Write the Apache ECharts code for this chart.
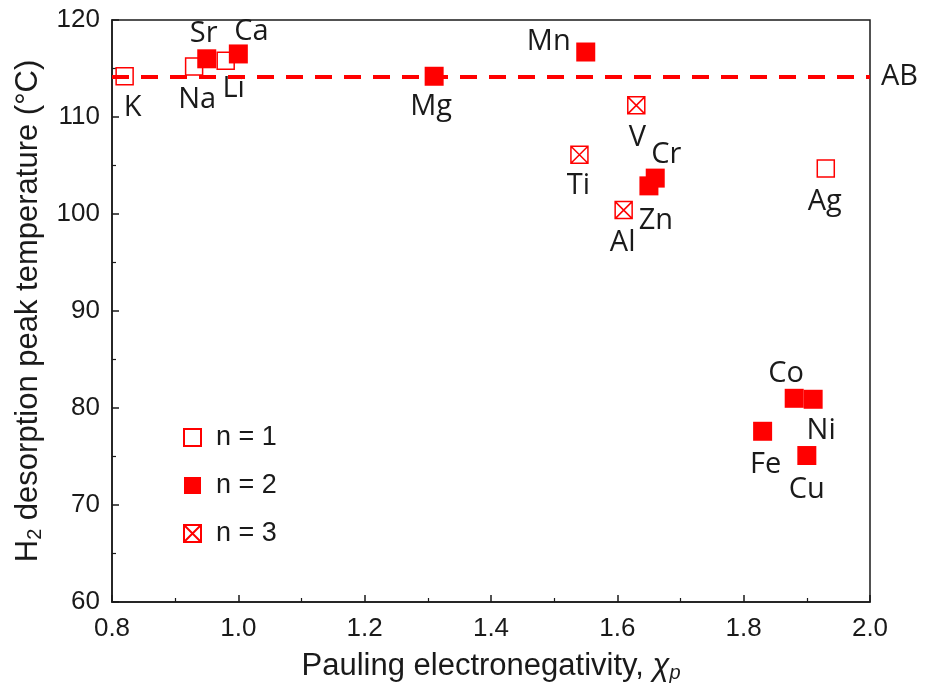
<!DOCTYPE html>
<html><head><meta charset="utf-8">
<script src="https://cdn.jsdelivr.net/npm/echarts@6/dist/echarts.min.js"></script>
<style>html,body{margin:0;padding:0;background:#fff}#c{width:928px;height:684px}</style>
</head><body><div id="c"></div>
<script>
// element, electronegativity, peak temperature
const n1Names = ['K', 'Na', 'Li', 'Ag'];
const n1X = [0.82, 0.93, 0.98, 1.93];
const n1Y = [114.2, 115.2, 115.8, 104.7];

const n2Names = ['Sr', 'Ca', 'Mg', 'Mn', 'Cr', 'Zn', 'Co', 'Ni', 'Fe', 'Cu'];
const n2X = [0.95, 1.00, 1.31, 1.55, 1.66, 1.65, 1.88, 1.91, 1.83, 1.90];
const n2Y = [116.0, 116.5, 114.2, 116.7, 103.7, 102.9, 81.0, 80.9, 77.6, 75.1];

const n3Names = ['V', 'Ti', 'Al'];
const n3X = [1.63, 1.54, 1.61];
const n3Y = [111.2, 106.1, 100.4];

const abValue = 114.2;
const xTicks = [0.8, 1.0, 1.2, 1.4, 1.6, 1.8, 2.0];
const yTicks = [60, 70, 80, 90, 100, 110, 120];

// label placement (style only)
const labelOffset = {
  K: [8, 31], Na: [3, 33], Sr: [-3, -25], Li: [8, 28], Ca: [13, -22], Mg: [-3, 30],
  Mn: [-37, -10], V: [1, 32], Ti: [-1, 31], Cr: [11, -23], Zn: [7, 35], Al: [-1, 33],
  Ag: [-1, 33], Co: [-8, -25], Ni: [8, 31], Fe: [3, 33], Cu: [0, 34]
};

const RED = '#ff0000';
const INK = '#1a1a1a';
const labelFont = {fontFamily: 'Open Sans', fontSize: 29, color: INK};

function build(names, xs, ys) {
  return names.map((n, i) => ({
    name: n, value: [xs[i], ys[i]],
    label: {show: true, formatter: n, position: 'inside', offset: labelOffset[n],
      align: 'center', verticalAlign: 'middle', ...labelFont}
  }));
}

const chart = echarts.init(document.getElementById('c'), null, {renderer: 'canvas'});
const crossSym = 'path://M0,0L10,0L10,10L0,10Z M0,0L10,10 M10,0L0,10';

chart.setOption({
  animation: false,
  grid: {left: 112, right: 58, top: 20, bottom: 82, outerBoundsMode: 'none', containLabel: false,
    show: true, borderColor: INK, borderWidth: 1.5, backgroundColor: 'transparent'},
  legend: {
    orient: 'vertical', left: 178, top: 419, itemWidth: 17, itemHeight: 17, itemGap: 21,
    textStyle: {fontFamily: 'Liberation Sans', fontSize: 27, color: INK, padding: [0, 0, 0, 10]},
    data: ['n = 1', 'n = 2', 'n = 3']
  },
  xAxis: {
    type: 'value', min: 0.8, max: 2.0, interval: 0.2,
    name: '{t|Pauling electronegativity, }{c|χ}{s|p}', nameLocation: 'middle', nameGap: 47,
    nameTextStyle: {rich: {
      t: {fontFamily: 'Liberation Sans', fontSize: 31, color: INK},
      c: {fontFamily: 'Liberation Sans', fontSize: 31, fontStyle: 'italic', color: INK},
      s: {fontFamily: 'Liberation Sans', fontSize: 20, fontStyle: 'italic', color: INK, verticalAlign: 'bottom', padding: [14, 0, 0, 0]}
    }},
    axisLine: {show: true, lineStyle: {color: INK, width: 1.5}},
    axisTick: {show: true, inside: true, length: 7, lineStyle: {color: INK, width: 1.5}},
    minorTick: {show: true, splitNumber: 2, length: 4, lineStyle: {color: INK, width: 1.2}},
    splitLine: {show: false},
    axisLabel: {fontFamily: 'Liberation Sans', fontSize: 26, color: INK, margin: 14,
      formatter: v => v.toFixed(1)}
  },
  yAxis: {
    type: 'value', min: 60, max: 120, interval: 10,
    name: '{t|H}{s|2}{t| desorption peak temperature (°C)}', nameLocation: 'middle', nameGap: 66, nameRotate: 90,
    nameTextStyle: {rich: {
      t: {fontFamily: 'Liberation Sans', fontSize: 31, color: INK},
      s: {fontFamily: 'Liberation Sans', fontSize: 20, color: INK, verticalAlign: 'bottom', padding: [14, 0, 0, 0]}
    }},
    axisLine: {show: true, lineStyle: {color: INK, width: 1.5}},
    axisTick: {show: true, inside: true, length: 7, lineStyle: {color: INK, width: 1.5}},
    minorTick: {show: true, splitNumber: 2, length: 4, lineStyle: {color: INK, width: 1.2}},
    splitLine: {show: false},
    axisLabel: {fontFamily: 'Liberation Sans', fontSize: 26, color: INK, margin: 12}
  },
  series: [
    {
      name: 'AB', type: 'line', data: [], silent: true,
      markLine: {
        silent: true, symbol: ['none', 'none'],
        lineStyle: {color: RED, type: [17, 12], width: 4},
        label: {show: true, position: 'end', formatter: 'AB', fontFamily: 'Open Sans', fontSize: 29, color: INK, distance: 11},
        data: [{yAxis: abValue}]
      }
    },
    {
      name: 'n = 1', type: 'scatter', symbol: 'rect', symbolSize: 17, z: 3,
      itemStyle: {color: '#fff', borderColor: RED, borderWidth: 1.5, opacity: 1},
      data: build(n1Names, n1X, n1Y)
    },
    {
      name: 'n = 2', type: 'scatter', symbol: 'rect', symbolSize: 19, z: 4,
      itemStyle: {color: RED, opacity: 1},
      data: build(n2Names, n2X, n2Y)
    },
    {
      name: 'n = 3', type: 'scatter', symbol: crossSym, symbolSize: 17, z: 3,
      itemStyle: {color: '#fff', borderColor: RED, borderWidth: 1.5, opacity: 1},
      data: build(n3Names, n3X, n3Y)
    }
  ]
});
</script></body></html>
